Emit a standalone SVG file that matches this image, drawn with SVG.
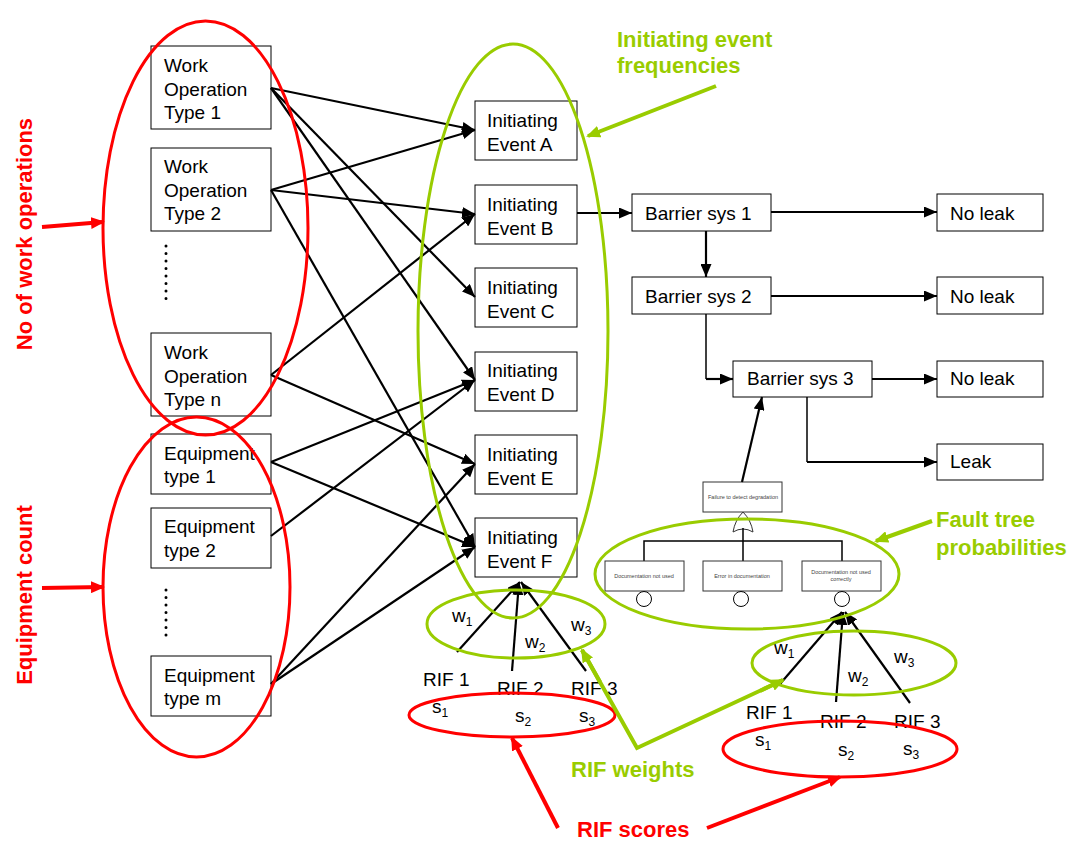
<svg xmlns="http://www.w3.org/2000/svg" width="1073" height="842" viewBox="0 0 1073 842">
  <style>
    .box { fill: #fff; stroke: #000; stroke-width: 1; }
    .ftbox { fill: #fff; stroke: #333; stroke-width: 1; }
    .t { font-family: "Liberation Sans", Arial, sans-serif; font-size: 19px; fill: #000; }
    .ft { font-family: "Liberation Sans", Arial, sans-serif; font-size: 5.5px; fill: #444; text-anchor: middle; }
    .sub { font-size: 12px; }
    .lblg { font-family: "Liberation Sans", Arial, sans-serif; font-size: 22px; font-weight: bold; fill: #99cc00; }
    .lblr { font-family: "Liberation Sans", Arial, sans-serif; font-size: 22px; font-weight: bold; fill: #ff0000; }
    .conn { fill: none; stroke: #000; stroke-width: 2.2; marker-end: url(#ah); }
    .plain { fill: none; stroke: #000; stroke-width: 1.5; }
    .eg { fill: none; stroke: #99cc00; stroke-width: 3; }
    .er { fill: none; stroke: #ff0000; stroke-width: 3; }
    .ag { fill: none; stroke: #99cc00; stroke-width: 4; }
    .agm { marker-end: url(#ahg); }
    .ar { fill: none; stroke: #ff0000; stroke-width: 4; marker-end: url(#ahr); }
    .dots { fill: none; stroke: #000; stroke-width: 3; stroke-linecap: round; stroke-dasharray: 0 7.5; }
  </style>
  <defs>
    <marker id="ah" markerUnits="userSpaceOnUse" markerWidth="13" markerHeight="11" refX="13" refY="5.5" orient="auto">
      <path d="M0,0 L13,5.5 L0,11 z" fill="#000"/>
    </marker>
    <marker id="ahg" markerUnits="userSpaceOnUse" markerWidth="14" markerHeight="12" refX="12" refY="6" orient="auto">
      <path d="M0,0 L14,6 L0,12 z" fill="#99cc00"/>
    </marker>
    <marker id="ahr" markerUnits="userSpaceOnUse" markerWidth="14" markerHeight="12" refX="12" refY="6" orient="auto">
      <path d="M0,0 L14,6 L0,12 z" fill="#ff0000"/>
    </marker>
  </defs>

  <rect width="1073" height="842" fill="#fff"/>

  <!-- source nodes: work operations and equipment -->
  <g id="wo1"><rect class="box" x="151" y="46" width="120" height="83"/>
    <text class="t" x="164" y="72">Work</text><text class="t" x="164" y="96">Operation</text><text class="t" x="164" y="119">Type 1</text></g>
  <g id="wo2"><rect class="box" x="151" y="148" width="120" height="83"/>
    <text class="t" x="164" y="173">Work</text><text class="t" x="164" y="197">Operation</text><text class="t" x="164" y="220">Type 2</text></g>
  <g id="wo-dots"><line class="dots" x1="166" y1="246" x2="166" y2="304"/></g>
  <g id="won"><rect class="box" x="151" y="333" width="120" height="83"/>
    <text class="t" x="164" y="359">Work</text><text class="t" x="164" y="383">Operation</text><text class="t" x="164" y="406">Type n</text></g>
  <g id="eq1"><rect class="box" x="151" y="434" width="120" height="60"/>
    <text class="t" x="164" y="460">Equipment</text><text class="t" x="164" y="483">type 1</text></g>
  <g id="eq2"><rect class="box" x="151" y="508" width="120" height="60"/>
    <text class="t" x="164" y="533">Equipment</text><text class="t" x="164" y="557">type 2</text></g>
  <g id="eq-dots"><line class="dots" x1="166" y1="590" x2="166" y2="640"/></g>
  <g id="eqm"><rect class="box" x="151" y="656" width="120" height="60"/>
    <text class="t" x="164" y="682">Equipment</text><text class="t" x="164" y="705">type m</text></g>

  <!-- initiating events -->
  <g id="ie-a"><rect class="box" x="475" y="101" width="102" height="59"/>
    <text class="t" x="487" y="127">Initiating</text><text class="t" x="487" y="151">Event A</text></g>
  <g id="ie-b"><rect class="box" x="475" y="185" width="102" height="59"/>
    <text class="t" x="487" y="211">Initiating</text><text class="t" x="487" y="235">Event B</text></g>
  <g id="ie-c"><rect class="box" x="475" y="268" width="102" height="59"/>
    <text class="t" x="487" y="294">Initiating</text><text class="t" x="487" y="318">Event C</text></g>
  <g id="ie-d"><rect class="box" x="475" y="352" width="102" height="59"/>
    <text class="t" x="487" y="377">Initiating</text><text class="t" x="487" y="401">Event D</text></g>
  <g id="ie-e"><rect class="box" x="475" y="435" width="102" height="59"/>
    <text class="t" x="487" y="461">Initiating</text><text class="t" x="487" y="485">Event E</text></g>
  <g id="ie-f"><rect class="box" x="475" y="518" width="102" height="59"/>
    <text class="t" x="487" y="544">Initiating</text><text class="t" x="487" y="568">Event F</text></g>

  <!-- event tree -->
  <g id="bar1"><rect class="box" x="632" y="194" width="139" height="37"/><text class="t" x="645" y="220">Barrier sys 1</text></g>
  <g id="bar2"><rect class="box" x="632" y="277" width="139" height="37"/><text class="t" x="645" y="303">Barrier sys 2</text></g>
  <g id="bar3"><rect class="box" x="733" y="361" width="139" height="36"/><text class="t" x="747" y="385">Barrier sys 3</text></g>
  <g id="noleak1"><rect class="box" x="937" y="194" width="106" height="37"/><text class="t" x="950" y="220">No leak</text></g>
  <g id="noleak2"><rect class="box" x="937" y="277" width="106" height="37"/><text class="t" x="950" y="303">No leak</text></g>
  <g id="noleak3"><rect class="box" x="937" y="361" width="106" height="36"/><text class="t" x="950" y="385">No leak</text></g>
  <g id="leak"><rect class="box" x="937" y="444" width="106" height="36"/><text class="t" x="950" y="468">Leak</text></g>

  <!-- fault tree -->
  <g id="fault-tree">
    <rect class="ftbox" x="703" y="482" width="79" height="30"/>
    <text class="ft" x="743" y="499">Failure to detect degradation</text>
    <path d="M733,532 Q735,520 743,512 Q751,520 753,532 Q743,526 733,532 z" fill="#fff" stroke="#333" stroke-width="1"/>
    <path class="plain" d="M743,528 V541 M644,561 V541 H842 V561 M743,541 V561" stroke="#333" stroke-width="1.2"/>
    <rect class="ftbox" x="605" y="561" width="79" height="30"/>
    <text class="ft" x="644" y="578">Documentation not used</text>
    <rect class="ftbox" x="703" y="561" width="79" height="30"/>
    <text class="ft" x="742" y="578">Error in documentation</text>
    <rect class="ftbox" x="802" y="561" width="79" height="30"/>
    <text class="ft" x="841" y="574">Documentation not used</text>
    <text class="ft" x="841" y="581">correctly</text>
    <circle cx="644" cy="599" r="7.5" fill="#fff" stroke="#000" stroke-width="1"/>
    <circle cx="741" cy="599" r="7.5" fill="#fff" stroke="#000" stroke-width="1"/>
    <circle cx="842" cy="599" r="7.5" fill="#fff" stroke="#000" stroke-width="1"/>
  </g>

  <!-- RIF groups -->
  <g id="rif-left">
    <text class="t" x="452" y="622">w<tspan class="sub" dy="4">1</tspan></text>
    <text class="t" x="525" y="648">w<tspan class="sub" dy="4">2</tspan></text>
    <text class="t" x="571" y="631">w<tspan class="sub" dy="4">3</tspan></text>
    <text class="t" x="423" y="686">RIF 1</text>
    <text class="t" x="497" y="695">RIF 2</text>
    <text class="t" x="571" y="695">RIF 3</text>
    <text class="t" x="432" y="713">s<tspan class="sub" dy="4">1</tspan></text>
    <text class="t" x="515" y="722">s<tspan class="sub" dy="4">2</tspan></text>
    <text class="t" x="579" y="722">s<tspan class="sub" dy="4">3</tspan></text>
  </g>
  <g id="rif-right">
    <text class="t" x="774" y="654">w<tspan class="sub" dy="4">1</tspan></text>
    <text class="t" x="848" y="682">w<tspan class="sub" dy="4">2</tspan></text>
    <text class="t" x="894" y="663">w<tspan class="sub" dy="4">3</tspan></text>
    <text class="t" x="746" y="719">RIF 1</text>
    <text class="t" x="820" y="728">RIF 2</text>
    <text class="t" x="894" y="728">RIF 3</text>
    <text class="t" x="755" y="746">s<tspan class="sub" dy="4">1</tspan></text>
    <text class="t" x="838" y="756">s<tspan class="sub" dy="4">2</tspan></text>
    <text class="t" x="903" y="755">s<tspan class="sub" dy="4">3</tspan></text>
  </g>

  <!-- connectors -->
  <g id="connectors">
    <path class="conn" d="M271,88 L475,130"/>
    <path class="conn" d="M271,88 L475,297"/>
    <path class="conn" d="M271,88 L475,380"/>
    <path class="conn" d="M271,190 L475,130"/>
    <path class="conn" d="M271,190 L475,214"/>
    <path class="conn" d="M271,190 L475,547"/>
    <path class="conn" d="M271,375 L475,214"/>
    <path class="conn" d="M271,375 L475,464"/>
    <path class="conn" d="M271,462 L475,380"/>
    <path class="conn" d="M271,462 L475,547"/>
    <path class="conn" d="M271,536 L475,380"/>
    <path class="conn" d="M271,684 L475,464"/>
    <path class="conn" d="M271,684 L475,547"/>

    <path class="conn" d="M577,213 H632"/>
    <path class="conn" d="M771,212 H937"/>
    <path class="conn" d="M706,231 V277"/>
    <path class="conn" d="M771,296 H937"/>
    <path class="plain" d="M706,314 V379" stroke="#555"/>
    <path class="conn" d="M706,379 H733"/>
    <path class="conn" d="M872,379 H937"/>
    <path class="plain" d="M807,397 V462" stroke="#555"/>
    <path class="conn" d="M807,462 H937"/>
    <path class="conn" d="M742,482 L762,397"/>

    <path class="conn" d="M457,652 L520,582"/>
    <path class="conn" d="M512,671 L519,582"/>
    <path class="conn" d="M586,671 L521,582"/>
    <path class="conn" d="M780,684 L842,612"/>
    <path class="conn" d="M836,702 L843,612"/>
    <path class="conn" d="M910,703 L845,612"/>
  </g>

  <!-- grouping ellipses -->
  <g id="groupings">
    <ellipse class="er" cx="205.5" cy="228" rx="102.5" ry="207"/>
    <ellipse class="er" cx="196.5" cy="587" rx="93.5" ry="170"/>
    <ellipse class="eg" cx="513" cy="331" rx="95" ry="287"/>
    <ellipse class="eg" cx="747" cy="574" rx="152" ry="55"/>
    <ellipse class="eg" cx="516" cy="624" rx="89" ry="34"/>
    <ellipse class="eg" cx="854" cy="663" rx="102" ry="32"/>
    <ellipse class="er" cx="512" cy="715" rx="103" ry="22"/>
    <ellipse class="er" cx="840" cy="749" rx="117" ry="28"/>
  </g>

  <!-- annotations -->
  <g id="annotations">
    <text class="lblr" transform="translate(32,234) rotate(-90)" text-anchor="middle">No of work operations</text>
    <path class="ar" d="M42,227 L103,222"/>
    <text class="lblr" transform="translate(32,595) rotate(-90)" text-anchor="middle">Equipment count</text>
    <path class="ar" d="M42,588 L103,587"/>

    <text class="lblg" x="617" y="47">Initiating event</text>
    <text class="lblg" x="617" y="73">frequencies</text>
    <path class="ag agm" d="M716,86 L588,136"/>

    <text class="lblg" x="936" y="527">Fault tree</text>
    <text class="lblg" x="936" y="555">probabilities</text>
    <path class="ag agm" d="M932,521 L876,541"/>

    <text class="lblg" x="571" y="777">RIF weights</text>
    <path class="ag" d="M582,650 L637,748 L783,680"/>
    <path class="ag agm" d="M600,682 L582,650"/>
    <path class="ag agm" d="M760,691 L783,680"/>

    <text class="lblr" x="577" y="837">RIF scores</text>
    <path class="ar" d="M558,828 L512,738"/>
    <path class="ar" d="M707,828 L840,777"/>
  </g>
</svg>
